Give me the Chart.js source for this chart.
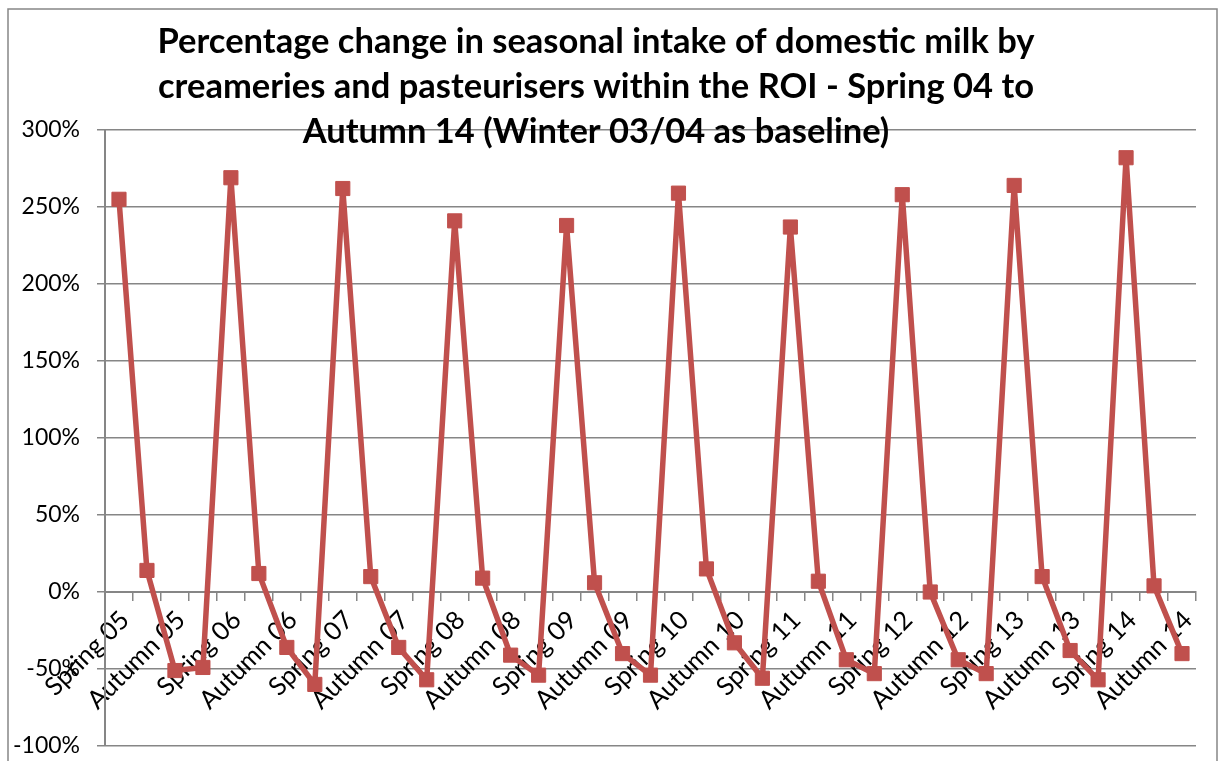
<!DOCTYPE html>
<html lang="en">
<head>
<meta charset="UTF-8">
<title>Percentage change in seasonal intake of domestic milk</title>
<script src="https://cdn.jsdelivr.net/npm/chart.js"></script>
<style>
  html, body { margin: 0; padding: 0; background: #fff; }
  #wrap { width: 1224px; height: 761px; position: relative; }
</style>
</head>
<body>
<div id="wrap"><canvas id="myChart"></canvas></div>
<script>
// categories (only every second one is labelled on the axis)
const seasons = [
  'Spring 05', 'Summer 05', 'Autumn 05', 'Winter 05',
  'Spring 06', 'Summer 06', 'Autumn 06', 'Winter 06',
  'Spring 07', 'Summer 07', 'Autumn 07', 'Winter 07',
  'Spring 08', 'Summer 08', 'Autumn 08', 'Winter 08',
  'Spring 09', 'Summer 09', 'Autumn 09', 'Winter 09',
  'Spring 10', 'Summer 10', 'Autumn 10', 'Winter 10',
  'Spring 11', 'Summer 11', 'Autumn 11', 'Winter 11',
  'Spring 12', 'Summer 12', 'Autumn 12', 'Winter 12',
  'Spring 13', 'Summer 13', 'Autumn 13', 'Winter 13',
  'Spring 14', 'Summer 14', 'Autumn 14'
];

// % change vs Winter 03/04
const pctChange = [
  255, 14, -51, -49,
  269, 12, -36, -60,
  262, 10, -36, -57,
  241, 9, -41, -54,
  238, 6, -40, -54,
  259, 15, -33, -56,
  237, 7, -44, -53,
  258, 0, -44, -53,
  264, 10, -38, -57,
  282, 4, -40
];

const yTicks = [-100, -50, 0, 50, 100, 150, 200, 250, 300];

const titleLines = [
  'Percentage change in seasonal intake of domestic milk by',
  'creameries and pasteurisers within the ROI - Spring 04 to',
  'Autumn 14 (Winter 03/04 as baseline)'
];

const GREY = '#868686';
const RED = '#C0504D';

// outer frame + title drawn straight on the canvas (title overlaps the plot like in Excel)
const frameAndTitle = {
  id: 'frameAndTitle',
  beforeDraw(chart) {
    const ctx = chart.ctx;
    ctx.save();
    ctx.fillStyle = '#fff';
    ctx.fillRect(0, 0, chart.width, chart.height);
    ctx.strokeStyle = GREY;
    ctx.lineWidth = 1.5;
    ctx.strokeRect(8, 9, 1209, 800);
    ctx.restore();
  },
  afterDraw(chart) {
    const ctx = chart.ctx;
    ctx.save();
    ctx.fillStyle = '#000';
    ctx.font = 'bold 34.5px Lato';
    ctx.textAlign = 'center';
    ctx.textBaseline = 'alphabetic';
    const base = [53, 98, 143];
    titleLines.forEach((t, i) => ctx.fillText(t, 596, base[i]));
    ctx.restore();
  }
};

const ctx = document.getElementById('myChart').getContext('2d');
new Chart(ctx, {
  type: 'line',
  data: {
    labels: seasons,
    datasets: [{
      label: 'Change',
      data: pctChange,
      borderColor: RED,
      backgroundColor: RED,
      borderWidth: 5.5,
      pointStyle: 'rect',
      pointRadius: 10,
      pointBackgroundColor: RED,
      pointBorderColor: RED,
      pointBorderWidth: 1,
      tension: 0,
      fill: false
    }]
  },
  options: {
    responsive: true,
    maintainAspectRatio: false,
    animation: false,
    layout: { padding: { top: 130, right: 28, bottom: 15, left: 0 } },
    plugins: {
      legend: { display: false },
      tooltip: { enabled: false },
      title: { display: false }
    },
    scales: {
      x: {
        position: { y: 0 },
        offset: true,
        grid: { drawOnChartArea: false, drawTicks: true, tickLength: 8, color: GREY, lineWidth: 1.5, offset: true },
        border: { color: GREY, width: 2 },
        ticks: {
          autoSkip: false,
          minRotation: 45,
          maxRotation: 45,
          padding: 5,
          labelOffset: 6,
          color: '#000',
          font: { family: 'Lato', size: 25.5 },
          callback: (v, i) => (i % 2 === 0 ? seasons[i] : '')
        }
      },
      y: {
        min: -100,
        max: 300,
        afterBuildTicks: s => { s.ticks = yTicks.map(v => ({ value: v })); },
        afterFit: s => {
          s.width = 105;
          s.paddingTop = 0;
          s.paddingBottom = 0;
        },
        grid: { color: GREY, lineWidth: 1.5, tickLength: 8 },
        border: { color: GREY, width: 2 },
        ticks: {
          padding: 17,
          color: '#000',
          font: { family: 'Lato', size: 23 },
          callback: v => v + '%'
        }
      }
    }
  },
  plugins: [frameAndTitle]
});
</script>
</body>
</html>
